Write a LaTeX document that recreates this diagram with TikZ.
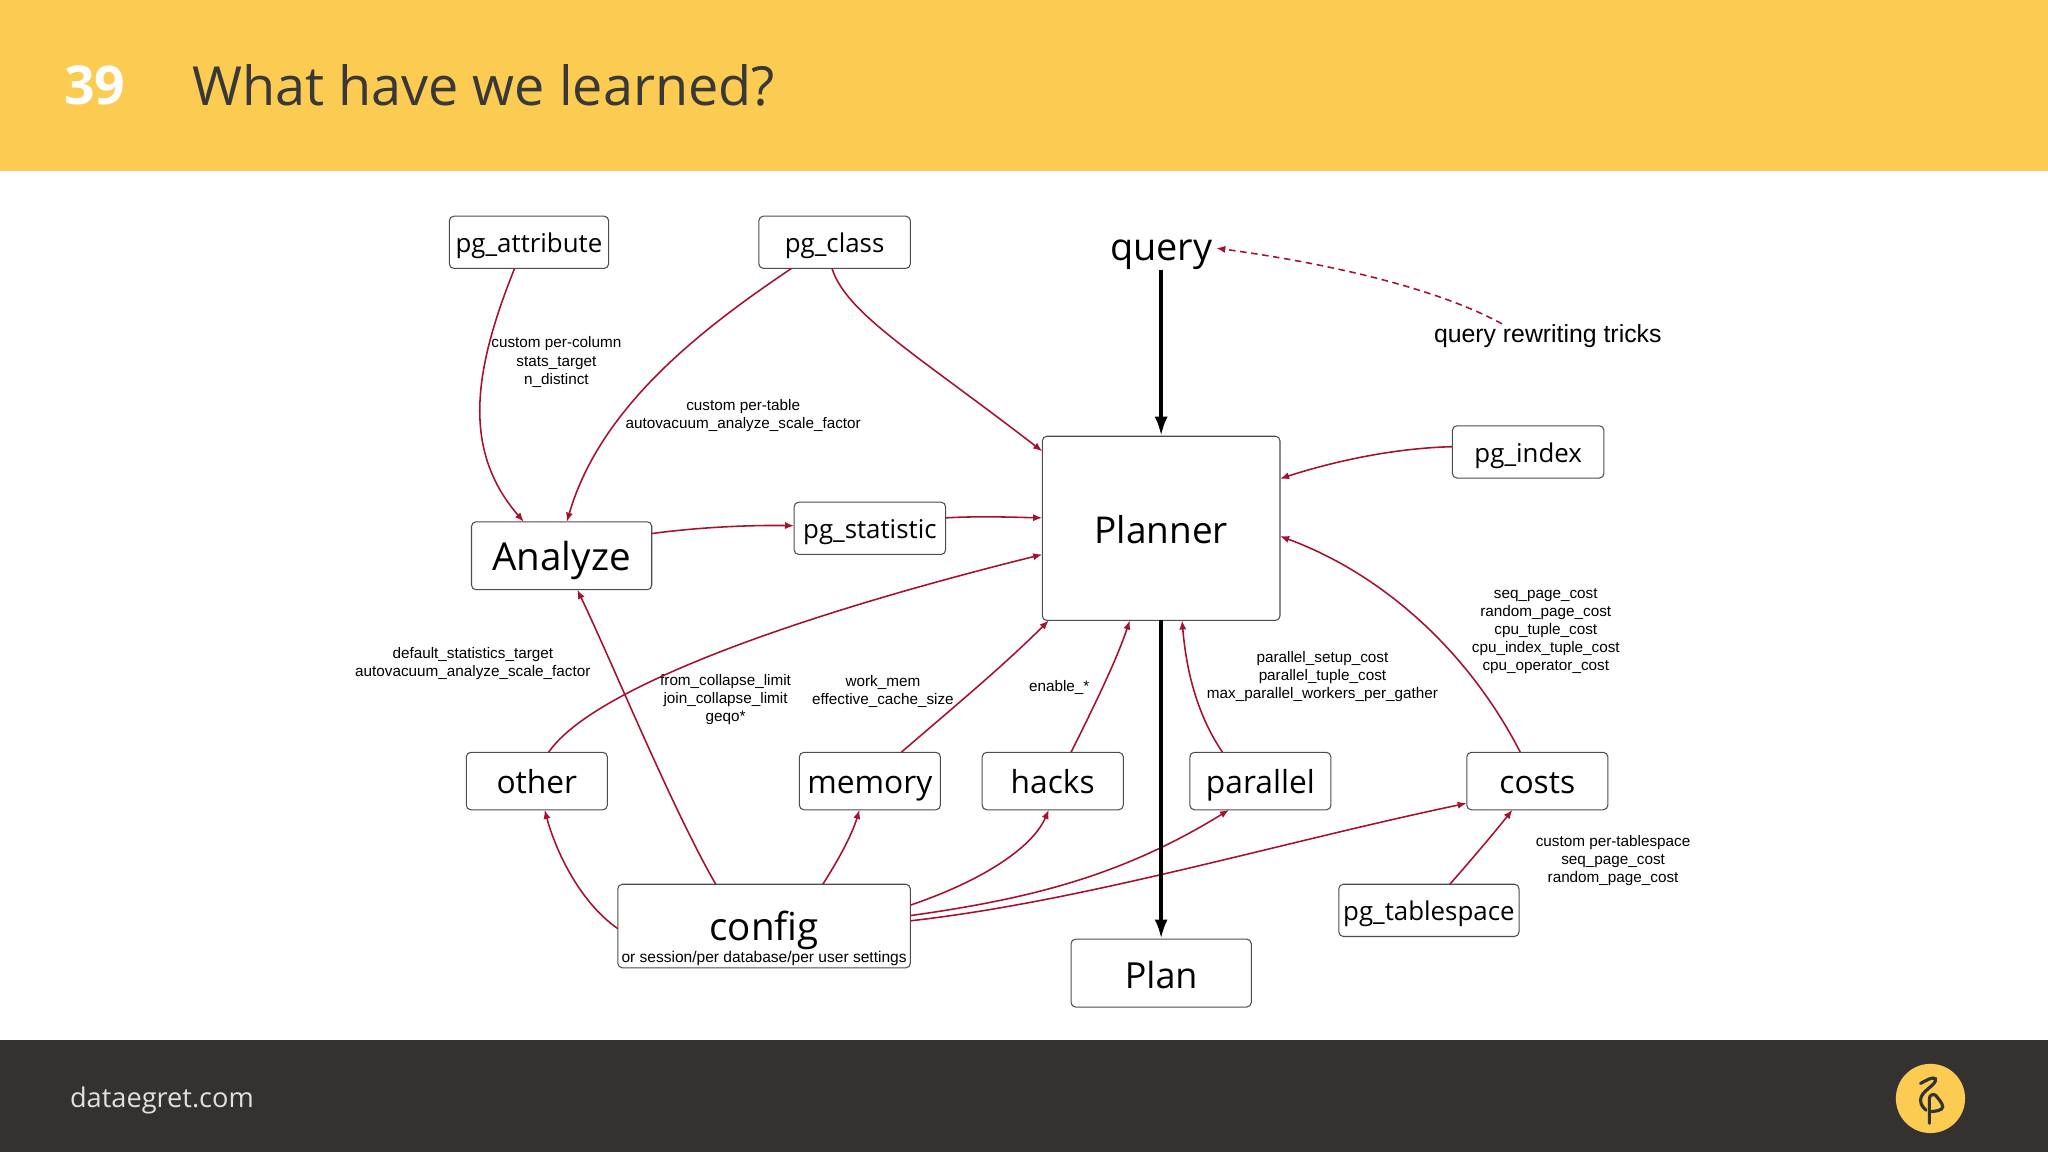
\documentclass[tikz,border=0pt]{standalone}
\usepackage{fontspec}
\setmainfont{Open Sans}
\newfontfamily\lblfont{Liberation Sans}
\usetikzlibrary{arrows.meta,positioning}
\definecolor{bannerY}{HTML}{FCCB52}
\definecolor{footD}{HTML}{343231}
\definecolor{linkR}{HTML}{A6112F}
\newcommand{\fs}[1]{\fontsize{#1}{#1}\selectfont}

\begin{document}
\begin{tikzpicture}[
  x=1pt, y=-1pt,
  box/.style={draw=black!70, fill=white, rounded corners=3.5pt, line width=0.8pt, inner sep=0pt, outer sep=0pt},
  small/.style={box, minimum width=116pt, minimum height=40pt, font=\fs{19.8}, text height=19pt, text depth=3.4pt},
  mid/.style={box, minimum width=108pt, minimum height=44pt, font=\fs{24.3}, text height=23.5pt, text depth=4.2pt},
  big/.style={box, minimum width=138pt, minimum height=52pt, font=\fs{29.5}, text height=28pt, text depth=5pt},
  lbl/.style={align=center, font=\lblfont\fontsize{11.7}{13.9}\selectfont, inner sep=0pt},
  arr/.style={-{Latex[length=7pt,width=5.5pt]}, line width=1.2pt, draw=linkR},
  flow/.style={-{Latex[length=15pt,width=10pt]}, line width=3pt, draw=black}
]
\useasboundingbox (0,0) rectangle (1568,882);
\fill[bannerY] (0,0) rectangle (1568,131);
\fill[footD] (0,796) rectangle (1568,882);
\node[font=\bfseries\fs{41}, text=white, inner sep=0pt] (num) at (72.5,65.5) {39};
\node[font=\fs{41.3}, text=black!78, inner sep=0pt, right=51pt of num] (title) {What have we learned?};
\node[font=\fs{20.8}, text=white!88!black, inner sep=0pt] (site) at (124,842.5) {dataegret.com};

% main column
\node[box, minimum width=182pt, minimum height=141pt, font=\fs{28.3}, text height=28pt, text depth=5pt] (planner) at (889,404.5) {Planner};
\node[font=\fs{29}, inner sep=0pt, outer sep=0pt] (query) at (889,195) {query};
\node[big, font=\fs{27.5}, below=244pt of planner] (plan) {Plan};
\node[small, left=74pt of planner] (pgstatistic) {pg\_statistic};
\node[big, left=109pt of pgstatistic, yshift=-21pt] (analyze) {Analyze};
\node[small, right=132pt of planner, yshift=58.5pt] (pgindex) {pg\_index};
\node[small, above=179pt of pgstatistic, xshift=-27pt] (pgclass) {pg\_class};
\node[small, minimum width=122pt, left=115pt of pgclass] (pgattr) {pg\_attribute};
\node[lbl, font=\lblfont\fs{19}] (tricks) at (1185,257) {query rewriting tricks};

% settings row
\node[mid] (other) at (411,598) {other};
\node[mid, right=147pt of other] (memory) {memory};
\node[mid, right=32pt of memory] (hacks) {hacks};
\node[mid, right=51pt of hacks] (parallel) {parallel};
\node[mid, right=104pt of parallel] (costs) {costs};
\node[small, minimum width=138pt, below=57pt of costs, xshift=-83pt] (pgtablespace) {pg\_tablespace};
\node[box, minimum width=224pt, minimum height=64pt, font=\fs{29.5}, text height=26pt, text depth=4pt] (config) at (585,709) {config};
\node[lbl, font=\lblfont\fs{11.9}] (configsub) at (585,733.5) {or session/per database/per user settings};

% option labels
\node[lbl] (lcolumn) at (426,277.2) {custom per-column\\stats\_target\\n\_distinct};
\node[lbl] (ltable) at (569,318.3) {custom per-table\\autovacuum\_analyze\_scale\_factor};
\node[lbl] (ldefault) at (362,508.2) {default\_statistics\_target\\autovacuum\_analyze\_scale\_factor};
\node[lbl] (lcollapse) at (555.5,535.7) {from\_collapse\_limit\\join\_collapse\_limit\\geqo*};
\node[lbl] (lmem) at (676,529.2) {work\_mem\\effective\_cache\_size};
\node[lbl] (lenable) at (811,526.7) {enable\_*};
\node[lbl] (lparallel) at (1012.5,518) {parallel\_setup\_cost\\parallel\_tuple\_cost\\max\_parallel\_workers\_per\_gather};
\node[lbl] (lcosts) at (1183.5,483.3) {seq\_page\_cost\\random\_page\_cost\\cpu\_tuple\_cost\\cpu\_index\_tuple\_cost\\cpu\_operator\_cost};
\node[lbl] (lspace) at (1235,659) {custom per-tablespace\\seq\_page\_cost\\random\_page\_cost};

\draw[arr] ([xshift=-11pt]pgattr.south) .. controls (362,285) and (354,345) .. ([xshift=-29pt]analyze.north);
\draw[arr] ([xshift=-33pt]pgclass.south) .. controls (540,250) and (460,310) .. ([xshift=4pt]analyze.north);
\draw[arr] ([xshift=-2pt]pgclass.south) .. controls (648,240) and (700,270) .. ([yshift=59pt]planner.west);
\draw[arr] ([yshift=17pt]analyze.east) .. controls (540,403) and (580,402) .. ([yshift=2pt]pgstatistic.west);
\draw[arr] ([yshift=8pt]pgstatistic.east) .. controls (750,395) and (775,396) .. ([yshift=8pt]planner.west);
\draw[arr] ([xshift=9pt]other.north) .. controls (450,532) and (583,478) .. ([yshift=-20pt]planner.west);
\draw[arr] ([xshift=-37pt]config.north) .. controls (515,620) and (470,510) .. ([xshift=12pt]analyze.south);
\draw[arr] ([yshift=-2pt]config.west) .. controls (443,690) and (425,650) .. ([xshift=6pt]other.south);
\draw[arr] ([xshift=45pt]config.north) .. controls (642,658) and (652,640) .. ([xshift=-8pt]memory.south);
\draw[arr] ([yshift=16pt]config.east) .. controls (750,675) and (790,650) .. ([xshift=-3pt]hacks.south);
\draw[arr] ([yshift=8pt]config.east) .. controls (790,688) and (860,670) .. ([xshift=-24pt]parallel.south);
\draw[arr] ([yshift=4pt]config.east) .. controls (830,690) and (980,645) .. ([yshift=-17pt]costs.west);
\draw[arr] ([xshift=24pt]memory.north) .. controls (727,544) and (767,511) .. ([xshift=-86pt]planner.south);
\draw[arr] ([xshift=14pt]hacks.north) .. controls (838,540) and (855,505) .. ([xshift=-24pt]planner.south);
\draw[arr] ([xshift=-29pt]parallel.north) .. controls (915,545) and (908,510) .. ([xshift=16pt]planner.south);
\draw[arr] ([xshift=-13pt]costs.north) .. controls (1125,500) and (1060,440) .. ([yshift=-6pt]planner.east);
\draw[arr] ([yshift=4pt]pgindex.west) .. controls (1070,343) and (1025,352) .. ([yshift=38pt]planner.east);
\draw[arr] ([xshift=16pt]pgtablespace.north) .. controls (1125,660) and (1142,640) .. ([xshift=-19pt]costs.south);
\draw[arr, dash pattern=on 5pt off 3.5pt] ([xshift=-35pt]tricks.north) .. controls (1095,218) and (1005,200) .. ([xshift=3pt,yshift=5pt]query.east);
\draw[flow] (query.south) -- (planner.north);
\draw[flow] (planner.south) -- (plan.north);

% logo
\node[circle, fill=bannerY, minimum size=53pt, inner sep=0pt] (logo) at (1478,841) {};
\begin{scope}[shift={(logo.center)}, line width=2.4pt, line cap=round]
\draw[footD] (-7.6,-11.5) .. controls (-3,-14) and (2,-17) .. (3.8,-15) .. controls (5,-10) and (-7.6,-6) .. (-7.6,1.3) .. controls (-7.6,5) and (-5,7.5) .. (-3.4,9);
\draw[footD] (-0.8,19) -- (-0.8,0) .. controls (-0.8,-3) and (2.5,-3.5) .. (3.8,-2.5) .. controls (6,0) and (9.4,4) .. (9.4,6.4) .. controls (9.4,9) and (4,10) .. (0,10);
\end{scope}
\end{tikzpicture}
\end{document}
